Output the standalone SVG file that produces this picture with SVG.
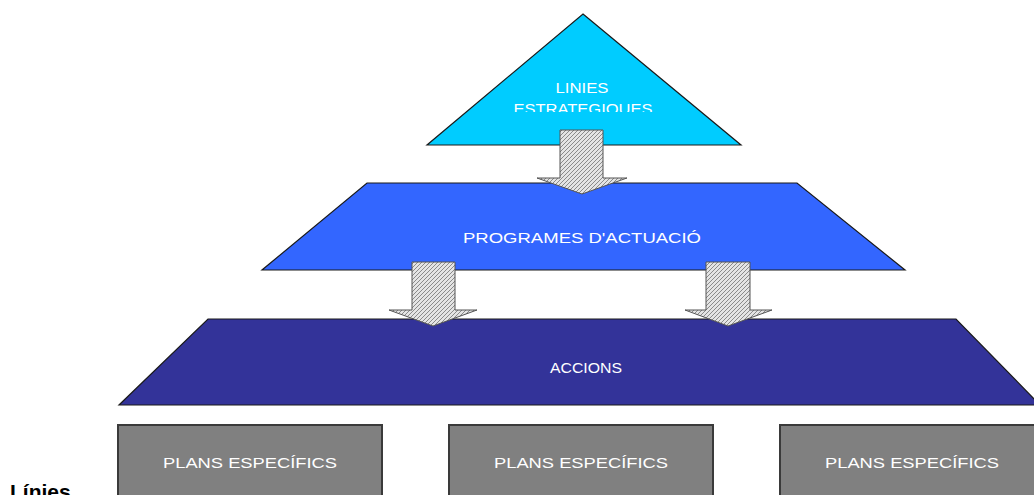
<svg xmlns="http://www.w3.org/2000/svg" width="1034" height="495" viewBox="0 0 1034 495">
<defs>
<pattern id="hatch" width="4" height="4" patternUnits="userSpaceOnUse">
<rect width="4" height="4" fill="#e4e4e4"/>
<path d="M-1,1 l2,-2 M0,4 l4,-4 M3,5 l2,-2" stroke="#8a8a8a" stroke-width="1"/>
</pattern>
<clipPath id="clipTri"><rect x="400" y="0" width="360" height="112"/></clipPath>
</defs>
<style>
.shape{stroke:#1a1a1a;stroke-width:1.2}
.lbl{font-family:"Liberation Sans",Arial,sans-serif;font-size:15px;fill:#ffffff;text-anchor:middle}
.box{fill:#808080;stroke:#3a3a3a;stroke-width:2}
.arrow{fill:url(#hatch);stroke:#555;stroke-width:1}
</style>
<rect width="1034" height="495" fill="#ffffff"/>
<g id="node-linies">
<polygon class="shape" points="583,14 741,145 427,145" fill="#00ccff"/>
<text class="lbl" x="582" y="93" textLength="53" lengthAdjust="spacingAndGlyphs">LINIES</text>
<text class="lbl" x="583" y="113.5" textLength="139" lengthAdjust="spacingAndGlyphs" clip-path="url(#clipTri)">ESTRATEGIQUES</text>
</g>
<g id="node-programes">
<polygon class="shape" points="367,183 797,183 905,270 262,270" fill="#3366ff"/>
<text class="lbl" x="582" y="243" textLength="238" lengthAdjust="spacingAndGlyphs">PROGRAMES D'ACTUACIÓ</text>
</g>
<g id="node-accions">
<polygon class="shape" points="208,319 956,319 1040,405 119,405" fill="#333399"/>
<text class="lbl" x="586" y="373" textLength="72" lengthAdjust="spacingAndGlyphs">ACCIONS</text>
</g>
<g id="node-plans-1">
<rect class="box" x="118" y="425" width="264" height="80"/>
<text class="lbl" x="250" y="468" textLength="174" lengthAdjust="spacingAndGlyphs">PLANS ESPECÍFICS</text>
</g>
<g id="node-plans-2">
<rect class="box" x="449" y="425" width="264" height="80"/>
<text class="lbl" x="581" y="468" textLength="174" lengthAdjust="spacingAndGlyphs">PLANS ESPECÍFICS</text>
</g>
<g id="node-plans-3">
<rect class="box" x="780" y="425" width="264" height="80"/>
<text class="lbl" x="912" y="468" textLength="174" lengthAdjust="spacingAndGlyphs">PLANS ESPECÍFICS</text>
</g>
<g id="connectors">
<polygon class="arrow" points="560,130 603,130 603,178 627,178 582,194 537,178 560,178"/>
<polygon class="arrow" points="412,262 455,262 455,310 477,310 433,326 389,310 412,310"/>
<polygon class="arrow" points="706,262 750,262 750,310 772,310 728,326 685,310 706,310"/>
</g>
<text x="10" y="499" font-family="'Liberation Sans',Arial,sans-serif" font-size="21" font-weight="bold" fill="#000">Línies</text>
</svg>
